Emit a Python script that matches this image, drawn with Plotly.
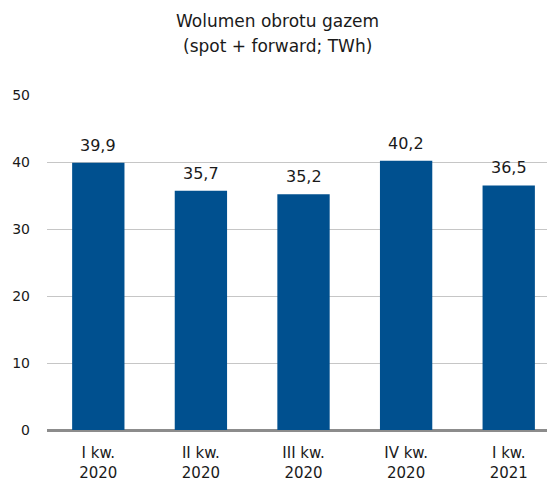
import plotly.graph_objects as go

categories = ["I kw.<br>2020", "II kw.<br>2020", "III kw.<br>2020", "IV kw.<br>2020", "I kw.<br>2021"]
values = [39.9, 35.7, 35.2, 40.2, 36.5]
labels = ["39,9", "35,7", "35,2", "40,2", "36,5"]
y_ticks = [0, 10, 20, 30, 40, 50]
title_lines = ["Wolumen obrotu gazem", "(spot + forward; TWh)"]

font_family = "DejaVu Sans, Verdana, sans-serif"
text_color = "#1a1a1a"

xs = list(range(len(categories)))

fig = go.Figure(go.Bar(
    x=xs,
    y=values,
    marker=dict(color="#00508F", line=dict(width=0)),
    hoverinfo="skip",
))

annotations = []
for x, v, lab in zip(xs, values, labels):
    annotations.append(dict(
        x=x, y=v, xref="x", yref="y", text=lab, showarrow=False,
        yanchor="bottom", yshift=6,
        font=dict(family=font_family, size=16, color=text_color),
    ))
for yy, line in zip([1.222, 1.145], title_lines):
    annotations.append(dict(
        x=0.4465, y=yy, xref="paper", yref="paper", text=line, showarrow=False,
        xanchor="center", yanchor="middle",
        font=dict(family=font_family, size=17, color=text_color),
    ))

fig.update_layout(
    width=555,
    height=474,
    margin=dict(l=39, r=0, t=87, b=49),
    paper_bgcolor="white",
    plot_bgcolor="white",
    bargap=0.49,
    showlegend=False,
    annotations=annotations,
    xaxis=dict(
        tickmode="array",
        tickvals=xs,
        ticktext=categories,
        range=[-0.5, 4.529],
        showgrid=False,
        zeroline=False,
        showline=False,
        ticks="",
        ticklabelstandoff=12,
        tickfont=dict(family=font_family, size=15, color=text_color),
    ),
    yaxis=dict(
        range=[0, 50],
        tickvals=y_ticks,
        showgrid=True,
        gridcolor="#C6C6C6",
        gridwidth=1,
        zeroline=True,
        zerolinecolor="#8C8C8C",
        zerolinewidth=3,
        showline=False,
        ticks="",
        ticklabelstandoff=16,
        tickfont=dict(family=font_family, size=14, color=text_color),
    ),
)

fig.write_html(
    "out.html",
    post_script="document.documentElement.style.overflow='hidden';document.body.style.overflow='hidden';",
)
